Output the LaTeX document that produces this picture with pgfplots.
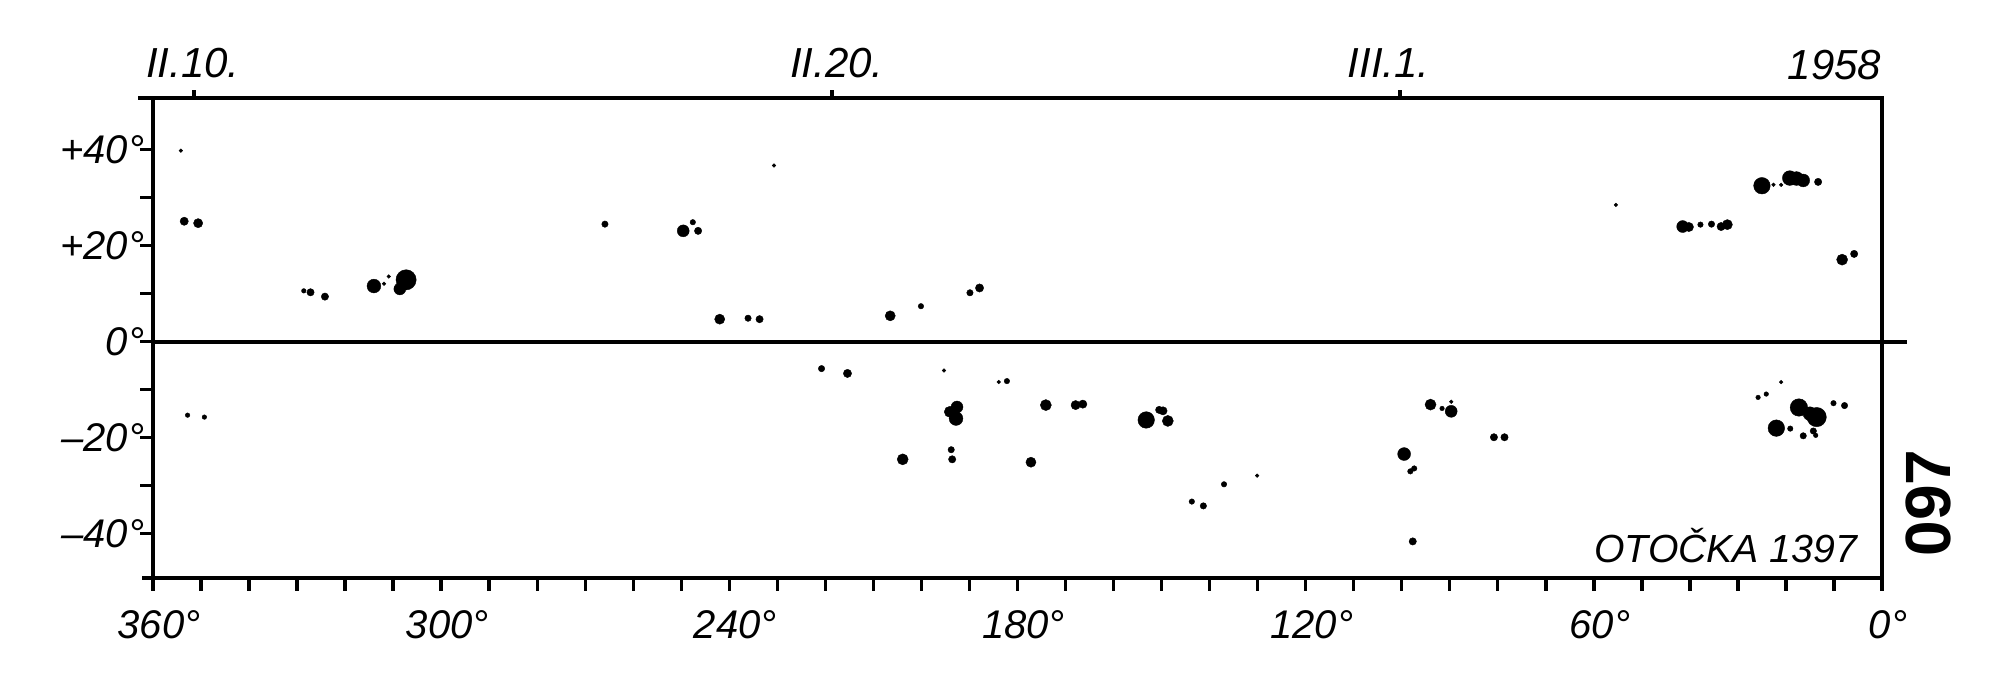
\documentclass[border=0pt]{standalone}
\usepackage{pgfplots}
\pgfplotsset{compat=1.18}
\usepackage{fontspec}
\setmainfont{Liberation Sans}
\begin{document}
\begin{tikzpicture}
\begin{axis}[
  scale only axis,
  width=432.25pt, height=120pt,
  x dir=reverse,
  xmin=0, xmax=360,
  ymin=-49.2, ymax=50.8,
  clip=false,
  axis line style={line width=1.05pt, black},
  tick align=outside,
  major tick length=3.2pt, minor tick length=3.2pt,
  every tick/.style={black, line width=0.85pt},
  xtick pos=bottom, ytick pos=left,
  xtick={0,60,120,180,240,300,360},
  xticklabels={0°,60°,120°,180°,240°,300°,360°},
  minor xtick={10,20,30,40,50,70,80,90,100,110,130,140,150,160,170,190,200,210,220,230,250,260,270,280,290,310,320,330,340,350},
  ytick={-40,-20,0,20,40},
  yticklabels={–40°,–20°,0°,+20°,+40°},
  minor ytick={-30,-10,10,30},
  every tick label/.append style={font=\itshape\fontsize{10}{10}\selectfont},
  xticklabel style={yshift=-1.5pt, xshift=1.5pt},
  yticklabel style={xshift=4.5pt},
]
% equator line
\addplot[black, line width=1.05pt] coordinates {(360,0) (-5.2,0)};
% sunspots
\addplot[
  only marks, mark=*,
  scatter, scatter/use mapped color={draw=black, fill=black},
  mark options={line width=0.1pt},
  visualization depends on={\thisrow{r} \as \rad},
  scatter/@pre marker code/.append style={/tikz/mark size=\rad*1.15},
] table[x=L, y=B, meta=r] {
L B r
354.2 39.8 0.4
353.5 25.1 0.9
350.6 24.7 1.0
352.8 -15.3 0.5
349.3 -15.7 0.5
328.6 10.6 0.5
327.2 10.3 0.8
324.2 9.4 0.8
314.0 11.6 1.5
311.9 12.1 0.4
310.9 13.6 0.4
308.6 11.0 1.3
307.3 12.9 2.2
265.9 24.5 0.7
249.6 23.1 1.3
247.6 24.9 0.6
246.5 23.1 0.8
242.0 4.7 1.1
236.1 4.9 0.7
233.7 4.7 0.8
230.7 36.7 0.4
220.8 -5.6 0.7
215.4 -6.6 0.9
206.5 5.4 1.1
203.9 -24.5 1.2
200.1 7.4 0.6
195.3 -6.0 0.4
194.1 -14.6 1.2
192.6 -13.6 1.3
192.8 -16.0 1.5
193.8 -22.5 0.7
193.6 -24.5 0.8
189.9 10.2 0.7
187.9 11.2 0.9
183.9 -8.4 0.4
182.2 -8.2 0.6
177.2 -25.1 1.1
174.1 -13.2 1.2
167.9 -13.2 1.0
166.4 -13.0 0.9
153.2 -16.3 1.8
150.5 -14.2 0.8
149.7 -14.4 0.9
148.7 -16.5 1.2
143.7 -33.3 0.6
141.3 -34.2 0.7
137.0 -29.7 0.6
130.1 -27.9 0.4
99.5 -23.4 1.4
98.2 -27.0 0.6
97.4 -26.4 0.6
97.7 -41.6 0.8
94.0 -13.1 1.2
91.6 -13.9 0.5
89.7 -12.5 0.4
89.7 -14.5 1.3
80.8 -19.9 0.8
78.6 -19.9 0.8
55.4 28.5 0.4
41.5 24.0 1.3
40.2 23.9 1.0
37.8 24.4 0.6
35.5 24.5 0.7
33.5 24.0 0.9
32.2 24.4 1.1
25.8 -11.6 0.5
25.0 32.5 1.8
24.1 -10.9 0.5
22.6 32.7 0.4
22.0 -18.0 1.8
21.0 32.7 0.4
21.0 -8.4 0.4
19.2 34.1 1.6
19.1 -18.1 0.6
17.8 34.0 1.5
17.3 -13.7 1.9
16.4 33.6 1.4
16.4 -19.6 0.7
15.0 -15.0 1.5
14.3 -18.6 0.7
13.8 -19.5 0.5
13.6 -15.7 2.1
13.3 33.3 0.8
10.1 -12.8 0.6
8.3 17.1 1.2
7.8 -13.3 0.7
5.8 18.3 0.8
};
% small overhangs of the frame lines at the left
\draw[line width=1.05pt] (axis cs:360,50.8) -- (axis cs:363.2,50.8);
\draw[line width=1.05pt] (axis cs:360,-49.2) -- (axis cs:362.2,-49.2);
% date ticks on the top edge
\draw[line width=0.85pt] (axis cs:351.5,50.8) -- ([yshift=2pt]axis cs:351.5,50.8);
\draw[line width=0.85pt] (axis cs:218.6,50.8) -- ([yshift=2pt]axis cs:218.6,50.8);
\draw[line width=0.85pt] (axis cs:100.4,50.8) -- ([yshift=2pt]axis cs:100.4,50.8);
\node[anchor=base, font=\itshape\fontsize{10.5}{11}\selectfont] at ([yshift=5pt]axis cs:351.7,50.8) {II.10.};
\node[anchor=base, font=\itshape\fontsize{10.5}{11}\selectfont] at ([yshift=5pt]axis cs:217.6,50.8) {II.20.};
\node[anchor=base, font=\itshape\fontsize{10.5}{11}\selectfont] at ([yshift=5pt]axis cs:102.7,50.8) {III.1.};
\node[anchor=base east, inner sep=0pt, font=\itshape\fontsize{10.5}{11}\selectfont] at ([yshift=4.5pt]axis cs:0,50.8) {1958};
% observer label
\node[anchor=base east, inner sep=0pt, font=\itshape\fontsize{9.8}{10}\selectfont] at (axis cs:5.0,-45.9) {OTOČKA 1397};
% page number
\node[rotate=90, inner sep=0pt, font=\bfseries\fontsize{16}{16}\selectfont] at (axis cs:-9.6,-33.6) {097};
% frame to match the reference proportions
\path (axis cs:391.86,71.2) rectangle (axis cs:-24.57,-71.7);
\end{axis}
\end{tikzpicture}
\end{document}
